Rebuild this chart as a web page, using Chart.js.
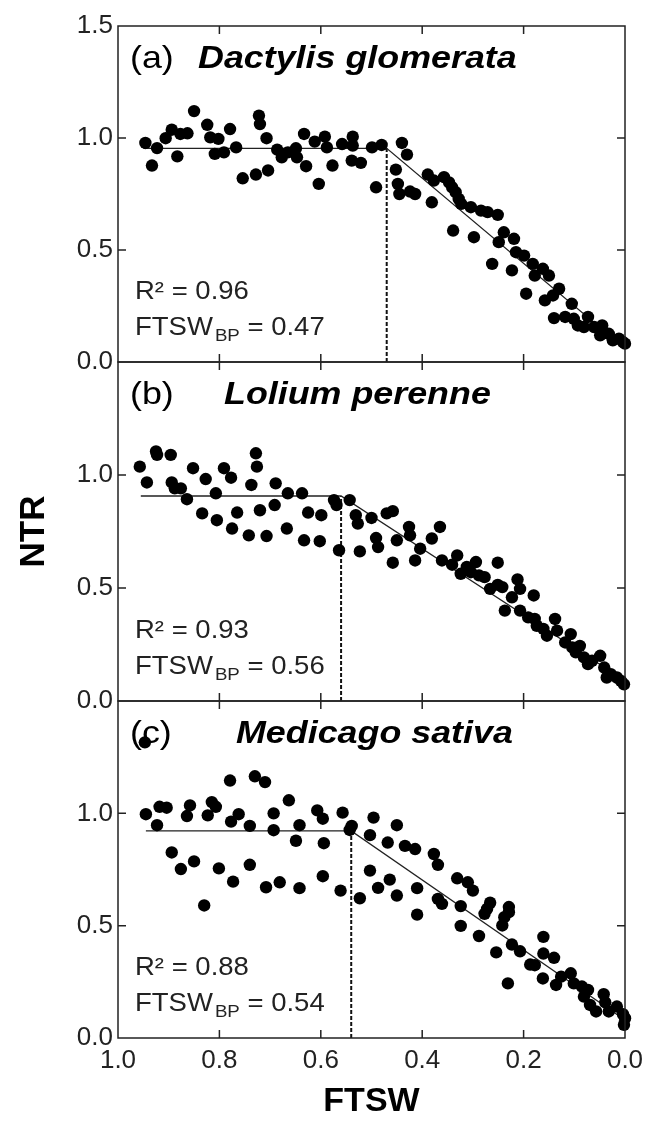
<!DOCTYPE html>
<html>
<head>
<meta charset="utf-8">
<script src="https://cdn.jsdelivr.net/npm/chart.js@4.4.1/dist/chart.umd.min.js"></script>
<style>
  html, body { margin: 0; padding: 0; background: #fff; }
  #wrap { position: relative; width: 646px; height: 1127px; }
  #wrap canvas { position: absolute; left: 0; top: 0; }
</style>
</head>
<body>
<div id="wrap">
  <canvas id="pa" width="646" height="1127"></canvas>
  <canvas id="pb" width="646" height="1127"></canvas>
  <canvas id="pc" width="646" height="1127"></canvas>
</div>
<script>
// (a) Dactylis glomerata
var ftswA = [0.946,0.933,0.923,0.906,0.894,0.883,0.877,0.863,0.850,0.824,
  0.818,0.809,0.802,0.791,0.779,0.767,0.754,0.728,0.722,0.720,
  0.707,0.704,0.686,0.677,0.665,0.649,0.647,0.633,0.629,0.612,
  0.604,0.592,0.588,0.577,0.558,0.537,0.537,0.539,0.521,0.499,
  0.491,0.480,0.452,0.448,0.440,0.430,0.445,0.424,0.414,0.389,
  0.381,0.377,0.357,0.347,0.341,0.334,0.339,0.328,0.323,0.304,
  0.298,0.284,0.271,0.251,0.262,0.249,0.239,0.223,0.219,0.215,
  0.199,0.195,0.182,0.178,0.162,0.158,0.150,0.142,0.130,0.140,
  0.118,0.105,0.101,0.093,0.073,0.081,0.061,0.045,0.049,0.032,
  0.024,0.012,0.004,0.000];
var ntrA = [0.978,0.877,0.955,0.999,1.037,0.918,1.018,1.021,1.120,1.059,
  1.003,0.929,0.996,0.936,1.040,0.958,0.820,0.837,1.100,1.062,
  0.999,0.855,0.948,0.914,0.936,0.954,0.914,1.018,0.874,0.984,
  0.795,1.006,0.958,0.877,0.973,1.006,0.966,0.899,0.889,0.958,
  0.780,0.969,0.859,0.795,0.978,0.926,0.750,0.761,0.750,0.837,
  0.713,0.810,0.825,0.802,0.780,0.758,0.587,0.728,0.706,0.691,
  0.557,0.676,0.669,0.657,0.438,0.535,0.579,0.409,0.550,0.490,
  0.475,0.305,0.438,0.386,0.416,0.275,0.386,0.297,0.327,0.196,
  0.201,0.260,0.193,0.163,0.201,0.156,0.156,0.163,0.119,0.126,
  0.097,0.104,0.089,0.082];

// (b) Lolium perenne
var ftswB = [0.957,0.943,0.925,0.923,0.896,0.894,0.888,0.876,0.864,0.852,
  0.834,0.827,0.807,0.805,0.791,0.777,0.775,0.765,0.742,0.737,
  0.728,0.726,0.720,0.707,0.689,0.691,0.667,0.665,0.637,0.633,
  0.625,0.602,0.599,0.574,0.569,0.564,0.543,0.531,0.527,0.523,
  0.500,0.491,0.487,0.470,0.458,0.458,0.450,0.426,0.424,0.414,
  0.404,0.381,0.365,0.361,0.341,0.331,0.324,0.312,0.304,0.294,
  0.288,0.277,0.266,0.251,0.251,0.242,0.237,0.223,0.212,0.207,
  0.207,0.191,0.180,0.178,0.174,0.161,0.154,0.138,0.134,0.118,
  0.107,0.104,0.097,0.089,0.081,0.073,0.065,0.049,0.041,0.036,
  0.028,0.016,0.008,0.002];
var ntrB = [1.037,0.967,1.104,1.089,1.089,0.967,0.941,0.941,0.893,1.030,
  0.830,0.982,0.919,0.800,1.030,0.988,0.763,0.834,0.733,0.956,
  1.096,1.037,0.844,0.730,0.963,0.867,0.763,0.919,0.919,0.711,
  0.834,0.707,0.822,0.889,0.867,0.667,0.889,0.822,0.785,0.662,
  0.810,0.721,0.681,0.830,0.840,0.612,0.711,0.770,0.733,0.622,
  0.674,0.719,0.770,0.622,0.603,0.644,0.563,0.593,0.570,0.615,
  0.556,0.548,0.496,0.612,0.514,0.504,0.400,0.459,0.538,0.496,
  0.400,0.370,0.467,0.363,0.333,0.319,0.289,0.363,0.311,0.259,
  0.296,0.237,0.215,0.244,0.193,0.163,0.178,0.200,0.148,0.104,
  0.119,0.104,0.089,0.074];

// (c) Medicago sativa
var ftswC = [0.947,0.945,0.923,0.918,0.904,0.894,0.876,0.864,0.858,0.850,
  0.830,0.823,0.815,0.807,0.801,0.779,0.777,0.773,0.762,0.740,
  0.740,0.730,0.710,0.708,0.693,0.693,0.681,0.663,0.649,0.642,
  0.642,0.607,0.596,0.594,0.596,0.561,0.557,0.539,0.543,0.523,
  0.503,0.503,0.496,0.487,0.468,0.464,0.450,0.450,0.434,0.414,
  0.410,0.410,0.377,0.369,0.369,0.361,0.331,0.324,0.324,0.310,
  0.300,0.288,0.277,0.272,0.266,0.254,0.242,0.238,0.229,0.229,
  0.231,0.223,0.207,0.187,0.178,0.161,0.161,0.162,0.140,0.136,
  0.126,0.107,0.101,0.085,0.081,0.073,0.069,0.057,0.042,0.039,
  0.032,0.016,0.004,0.002,0.000];
var ntrC = [1.316,0.996,0.947,1.029,1.025,0.826,0.752,0.988,1.035,0.786,
  0.590,0.991,1.050,1.029,0.755,1.146,0.963,0.696,0.996,0.944,
  0.771,1.165,1.139,0.671,1.000,0.925,0.693,1.058,0.878,0.947,
  0.667,1.013,0.976,0.867,0.720,0.656,1.003,0.944,0.926,0.622,
  0.903,0.745,0.981,0.668,0.870,0.705,0.947,0.634,0.855,0.841,
  0.667,0.549,0.819,0.771,0.619,0.597,0.711,0.587,0.499,0.693,
  0.656,0.454,0.553,0.575,0.602,0.381,0.501,0.538,0.583,0.560,
  0.243,0.416,0.386,0.327,0.324,0.450,0.376,0.265,0.357,0.236,
  0.273,0.288,0.243,0.229,0.184,0.214,0.147,0.118,0.195,0.159,
  0.118,0.140,0.106,0.059,0.088];

// segmented fit: plateau from fitStart to breakpoint, then linear down to FTSW = 0
var panelLetters = ['(a)', '(b)', '(c)'];
var species = ['Dactylis glomerata', 'Lolium perenne', 'Medicago sativa'];
var rSquared = ['0.96', '0.93', '0.88'];
var breakPoints = [0.47, 0.56, 0.54];
var plateaus = [0.954, 0.907, 0.922];
var fitStart = [0.95, 0.955, 0.945];
var fitEnd = [0.06, 0.09, 0.08];

var xTicks = [0, 0.2, 0.4, 0.6, 0.8, 1.0];
var yTicks = [0, 0.5, 1.0, 1.5];

var FONT = "'Liberation Sans', Arial, Helvetica, sans-serif";
var INK = '#222';

function pairs(xs, ys) {
  var n = Math.min(xs.length, ys.length), out = [];
  for (var i = 0; i < n; i++) out.push({x: xs[i], y: ys[i]});
  return out;
}

function stretchText(ctx, text, x, y, font, sx) {
  ctx.save();
  ctx.font = font;
  ctx.translate(x, y);
  ctx.scale(sx, 1);
  ctx.fillText(text, 0, 0);
  var w = ctx.measureText(text).width * sx;
  ctx.restore();
  return w;
}

// box, inward ticks and the panel texts
var panelDeco = {
  id: 'panelDeco',
  afterDraw: function (chart, args, o) {
    var ctx = chart.ctx, a = chart.chartArea;
    var xs = chart.scales.x, ys = chart.scales.y;
    ctx.save();
    ctx.strokeStyle = INK;
    ctx.lineWidth = 1.5;
    ctx.strokeRect(a.left, a.top, a.width, a.height);
    ctx.beginPath();
    xTicks.forEach(function (v) {
      if (v === 0 || v === 1) return;
      var px = xs.getPixelForValue(v);
      ctx.moveTo(px, a.bottom); ctx.lineTo(px, a.bottom - 8);
      ctx.moveTo(px, a.top); ctx.lineTo(px, a.top + 8);
    });
    yTicks.forEach(function (v) {
      if (v === 0 || v === 1.5) return;
      var py = ys.getPixelForValue(v);
      ctx.moveTo(a.left, py); ctx.lineTo(a.left + 8, py);
      ctx.moveTo(a.right, py); ctx.lineTo(a.right - 8, py);
    });
    ctx.stroke();

    var i = o.index;
    ctx.fillStyle = '#000';
    ctx.textBaseline = 'alphabetic';
    ctx.textAlign = 'left';
    stretchText(ctx, panelLetters[i], a.left + 12, a.top + 42, '32px ' + FONT, 1.12);
    stretchText(ctx, species[i], o.speciesX, a.top + 42, 'italic bold 32px ' + FONT, 1.12);

    ctx.fillStyle = INK;
    var sx = 1.1, x0 = a.left + 17;
    stretchText(ctx, 'R\u00b2 = ' + rSquared[i], x0, a.bottom - 63, '25px ' + FONT, sx);
    var yb = a.bottom - 27;
    var w = stretchText(ctx, 'FTSW', x0, yb, '25px ' + FONT, sx);
    var w2 = stretchText(ctx, 'BP', x0 + w + 2, yb + 6, '17px ' + FONT, sx);
    stretchText(ctx, ' = ' + breakPoints[i].toFixed(2), x0 + w + w2 + 2, yb, '25px ' + FONT, sx);
    ctx.restore();
  }
};

function makePanel(id, i, xs, ys, layout) {
  var datasets = [
    {
      type: 'scatter',
      data: pairs(xs, ys),
      pointRadius: 6.2,
      pointBackgroundColor: '#000',
      pointBorderWidth: 0,
      clip: false,
      order: 0
    },
    {
      type: 'line',
      data: [{x: fitStart[i], y: plateaus[i]}, {x: breakPoints[i], y: plateaus[i]}, {x: 0, y: fitEnd[i]}],
      borderColor: INK,
      borderWidth: 1.3,
      pointRadius: 0,
      fill: false,
      tension: 0,
      order: 1
    },
    {
      type: 'line',
      data: [{x: breakPoints[i], y: 0}, {x: breakPoints[i], y: plateaus[i]}],
      borderColor: '#111',
      borderWidth: 2,
      borderDash: [4, 2],
      pointRadius: 0,
      fill: false,
      order: 2
    }
  ];

  return new Chart(document.getElementById(id), {
    type: 'scatter',
    data: { datasets: datasets },
    options: {
      responsive: false,
      animation: false,
      events: [],
      layout: { padding: { left: 0, right: 21, top: layout.top, bottom: layout.bottom } },
      plugins: {
        legend: { display: false },
        tooltip: { enabled: false },
        panelDeco: { index: i, speciesX: layout.speciesX }
      },
      scales: {
        x: {
          type: 'linear',
          reverse: true,
          min: 0,
          max: 1,
          display: layout.showX,
          grid: { display: false, drawTicks: false },
          border: { display: false },
          ticks: {
            stepSize: 0.2,
            padding: 7,
            color: INK,
            font: { family: FONT, size: 26 },
            callback: function (v) { return v.toFixed(1); }
          },
          title: {
            display: layout.showX,
            text: 'FTSW',
            color: '#000',
            font: { family: FONT, size: 34, weight: 'bold' },
            padding: { top: 0, bottom: 5 }
          },
          afterFit: function (s) {
            s.height = layout.showX ? 89 : 0;
            s.paddingLeft = 0;
            s.paddingRight = 0;
          }
        },
        y: {
          type: 'linear',
          min: 0,
          max: 1.5,
          grid: { display: false, drawTicks: false },
          border: { display: false },
          ticks: {
            stepSize: 0.5,
            padding: 5,
            color: INK,
            font: { family: FONT, size: 26 },
            callback: function (v) {
              if (v > layout.maxLabel + 1e-9) return '';
              return v.toFixed(1);
            }
          },
          title: {
            display: layout.showY,
            text: 'NTR',
            color: '#000',
            font: { family: FONT, size: 35, weight: 'bold' },
            padding: { top: 13, bottom: 0 }
          },
          afterFit: function (s) {
            s.width = 118;
            s.paddingTop = 0;
            s.paddingBottom = 0;
          }
        }
      }
    },
    plugins: [panelDeco]
  });
}

makePanel('pa', 0, ftswA, ntrA, { top: 26, bottom: 1127 - 362, showX: false, showY: false, maxLabel: 1.5, speciesX: 198 });
makePanel('pb', 1, ftswB, ntrB, { top: 362, bottom: 1127 - 701, showX: false, showY: true, maxLabel: 1.0, speciesX: 224 });
makePanel('pc', 2, ftswC, ntrC, { top: 701, bottom: 0, showX: true, showY: false, maxLabel: 1.0, speciesX: 236 });
</script>
</body>
</html>
